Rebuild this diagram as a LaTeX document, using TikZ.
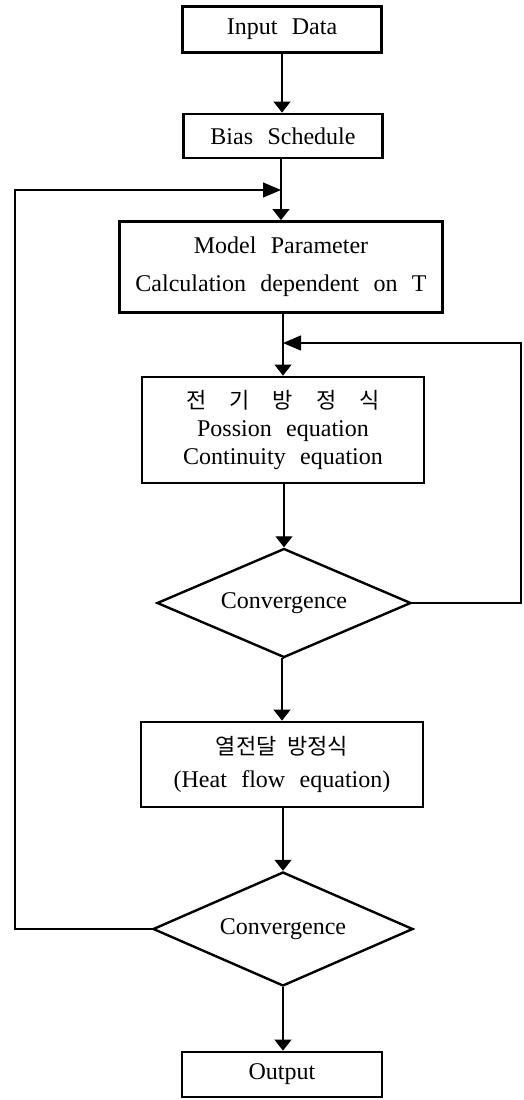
\documentclass[tikz,border=0pt]{standalone}
\usepackage{fontspec}
\setmainfont[WordSpace=2.4]{Liberation Serif}
\newfontfamily\kr{Noto Sans CJK KR}
\usetikzlibrary{arrows.meta,shapes.geometric}
\begin{document}
\begin{tikzpicture}[x=1pt,y=-1pt,
  box/.style={draw,line width=2.8pt,inner sep=0pt,align=center,font=\fontsize{24}{28}\selectfont},
  dia/.style={draw,diamond,aspect=2.3,line width=2.4pt,inner sep=0pt,font=\fontsize{24}{28}\selectfont},
  darr/.style={line width=1.1pt,-{Triangle[length=11pt,width=17pt]}},
  harr/.style={line width=1.1pt,-{Triangle[length=18pt,width=15pt]}}]
\useasboundingbox (0,0) rectangle (524,1100);
\node[box,minimum width=199pt,minimum height=46pt] (in) at (282,29.5) {Input Data};
\node[box,minimum width=199pt,minimum height=44pt] (bias) at (283,136) {Bias Schedule};
\node[box,minimum width=323pt,minimum height=91pt,font=\fontsize{24}{38}\selectfont] (model) at (281,267) {Model Parameter\\Calculation dependent on T};
\node[box,minimum width=282pt,minimum height=106pt] (elec) at (283,430) {{\kr\fontsize{22}{28}\selectfont 전\hspace{23pt}기\hspace{23pt}방\hspace{23pt}정\hspace{23pt}식}\\Possion equation\\Continuity equation};
\node[dia,minimum width=254pt,minimum height=109pt] (d1) at (284,603) {Convergence};
\node[box,minimum width=282pt,minimum height=85pt,font=\fontsize{24}{33}\selectfont] (heat) at (282,764.5) {{\kr\fontsize{22}{33}\selectfont 열전달\hspace{11pt}방정식}\\(Heat flow equation)};
\node[dia,minimum width=260pt,minimum height=114pt] (d2) at (283,929) {Convergence};
\node[box,minimum width=200pt,minimum height=45pt] (out) at (282,1074.5) {Output};
\coordinate (j1) at (281,190);
\coordinate (j2) at (283,343);
\coordinate (L1) at (15,190);
\coordinate (L2) at (15,929);
\coordinate (R1) at (521,603);
\coordinate (R2) at (521,343);
\draw[darr] (in.south) -- (in.south |- bias.north);
\draw[darr] (bias.south -| j1) -- (j1 |- model.north);
\draw[darr] (model.south -| j2) -- (j2 |- elec.north);
\draw[darr] (elec.south -| d1.north) -- (d1.north);
\draw[darr] (d1.south) -- (d1.south -| heat.north) -- (heat.north);
\draw[darr] (heat.south -| d2.north) -- (d2.north);
\draw[darr] (d2.south) -- (d2.south |- out.north);
\draw[harr] (d1.east) -- (R1) -- (R2) -- (j2);
\draw[harr] (d2.west) -- (L2) -- (L1) -- (j1);
\end{tikzpicture}
\end{document}
